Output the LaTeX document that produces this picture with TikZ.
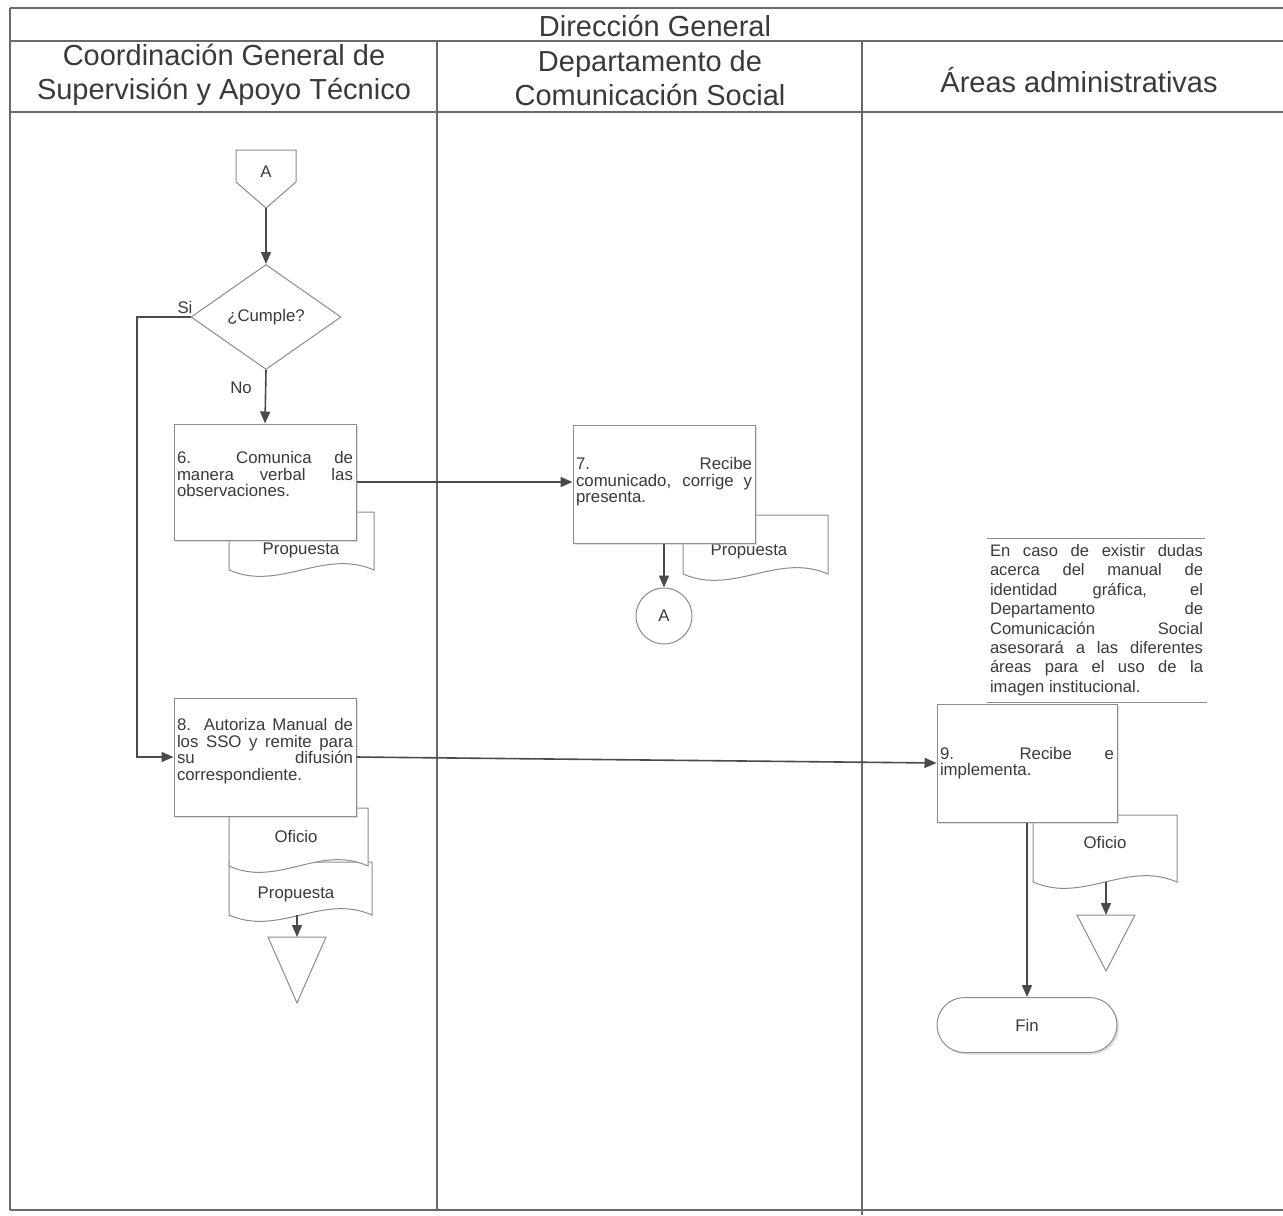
\documentclass[tikz,border=0pt]{standalone}
\usepackage{fontspec}
\setmainfont{Liberation Sans}
\usetikzlibrary{arrows.meta,shapes.geometric,shadows}
\definecolor{lnc}{HTML}{6A6A6A}
\definecolor{bxc}{HTML}{8C8C8C}
\definecolor{arc}{HTML}{4A4A4A}
\definecolor{txc}{HTML}{3A3A3A}
\newcommand{\hfont}{\fontsize{14.5pt}{17pt}\selectfont}
\newcommand{\sm}{\fontsize{8.4pt}{8.3pt}\selectfont}
\newcommand{\notefont}{\fontsize{8.3pt}{9.7pt}\selectfont}
\newcommand{\jl}[2]{\makebox[#1][s]{#2}}
\newcommand{\docshp}[4]{\draw[shp] (#1,#2) -- (#3,#2) -- (#3,#4) .. controls ({#1+0.65*(#3-#1)},{#4-22}) and ({#1+0.35*(#3-#1)},{#4+22}) .. (#1,#4) -- cycle;}
\tikzset{
  lane/.style={draw=lnc, line width=0.6pt},
  hdr/.style={font=\hfont, text=txc, align=center, inner sep=0pt},
  shp/.style={draw=bxc, fill=white, line width=0.5pt},
  proc/.style={shp, minimum width=91pt, minimum height=59pt, inner sep=1.5pt, font=\sm, text=txc,
    drop shadow={shadow xshift=1pt, shadow yshift=-1pt, fill=black!25}},
  intxt/.style={inner sep=0pt, font=\sm, text=txc},
  conn/.style={draw=arc, line width=0.8pt, -{Triangle[length=6pt,width=5pt]}},
  lbl/.style={font=\sm, text=txc, inner sep=0pt},
}
\begin{document}
\begin{tikzpicture}[x=0.5pt,y=-0.5pt]
\useasboundingbox (0,0) rectangle (1283,1215);
\fill[white] (0,0) rectangle (1283,1215);
% lanes
\draw[lane] (10,8) -- (1283,8);
\draw[lane] (10,41) -- (1283,41);
\draw[lane] (10,112) -- (1283,112);
\draw[lane] (10,8) -- (10,1210);
\draw[lane] (437,41) -- (437,1210);
\draw[lane] (862,41) -- (862,1215);
\draw[lane] (10,1210) -- (1283,1210);
\node[hdr] (dg) at (655,26) {Dirección General};
\node[hdr] (h1) at (224,75) {Coordinación General de\\Supervisión y Apoyo Técnico};
\node[hdr] (h2) at (650,78) {Departamento de\\Comunicación Social};
\node[hdr] (h3) at (1079,80) {Áreas administrativas};
% off-page connector
\draw[shp] (236,150) -- (296,150) -- (296,182) -- (266,208) -- (236,182) -- cycle;
\node[lbl] (opA) at (266,172) {A};
\coordinate (opAtip) at (266,208);
% decision
\node[shp, diamond, minimum width=75pt, minimum height=52.5pt, inner sep=0pt, font=\sm, text=txc] (dec) at (266,317) {¿Cumple?};
% documents
\docshp{229}{512}{374}{570}
\node[lbl] (d1) at (301,550) {Propuesta};
\docshp{683}{515}{828}{574}
\node[lbl] (d2) at (749,551) {Propuesta};
\docshp{229}{862}{372}{915}
\node[lbl] (d4) at (296,894) {Propuesta};
\coordinate (d4b) at (297,915);
\docshp{229}{808}{368}{866}
\node[lbl] (d3) at (296,836) {Oficio};
\docshp{1033}{815}{1177}{882}
\node[lbl] (d5) at (1105,842) {Oficio};
\coordinate (d5b) at (1106,882);
% archive triangles
\draw[shp] (268,937) -- (326,937) -- (297,1003) -- cycle;
\coordinate (tri1) at (297,937);
\draw[shp] (1077,915) -- (1135,915) -- (1106,971) -- cycle;
\coordinate (tri2) at (1106,915);
% process boxes
\node[proc, minimum height=58pt] (b6) at (265,482) {};
\node[intxt] (b6t) at ([yshift=4pt]b6.center) {\parbox{88pt}{\jl{88pt}{6.\ \ Comunica de}\\\jl{88pt}{manera verbal las}\\observaciones.}};
\node[proc] (b7) at (664,484) {};
\node[intxt] (b7t) at ([yshift=1pt]b7.center) {\parbox{88pt}{\jl{88pt}{7. Recibe}\\\jl{88pt}{comunicado, corrige y}\\presenta.}};
\node[proc] (b8) at (265,757) {};
\node[intxt] (b8t) at ([yshift=3pt]b8.center) {\parbox{88pt}{\jl{88pt}{8. Autoriza Manual de}\\\jl{88pt}{los SSO y remite\ para}\\\jl{88pt}{su difusión}\\correspondiente.}};
\node[proc, minimum width=90pt] (b9) at (1027,763) {};
\node[intxt] (b9t) at (b9.center) {\parbox{87pt}{\jl{87pt}{9.\ \ Recibe e}\\implementa.}};
\node[circle, shp, minimum size=28pt, inner sep=0pt, font=\sm, text=txc] (cA) at (664,616) {A};
\node[proc, rounded corners=13.75pt, minimum width=90pt, minimum height=27.5pt] (fin) at (1027,1025) {Fin};
% note
\node[inner sep=0pt, font=\notefont, text=txc] (note) at (1096.5,620) {\parbox{106.5pt}{\jl{106.5pt}{En caso de existir dudas}\\\jl{106.5pt}{acerca del manual de}\\\jl{106.5pt}{identidad gráfica, el}\\\jl{106.5pt}{Departamento de}\\\jl{106.5pt}{Comunicación Social}\\\jl{106.5pt}{asesorará a las diferentes}\\\jl{106.5pt}{áreas para el uso de la}\\imagen institucional.}};
\draw[draw=bxc, line width=0.5pt] (987,538) -- (1205,538);
\draw[draw=bxc, line width=0.5pt] (987,702) -- (1207,702);
% connectors
\draw[conn] (opAtip) -- (dec.north);
\draw[conn] (dec.south) -- (b6.north);
\node[lbl] (no) at (241,388) {No};
\draw[conn] (dec.west) -- (137,317) -- (137,757) -- (b8.west);
\node[lbl] (si) at (185,307) {Si};
\draw[conn] (b6.east) -- (b6.east -| b7.west);
\draw[conn] (b7.south) -- (cA.north);
\draw[conn] (b8.east) -- (b9.west);
\draw[conn] (b9.south) -- (fin.north);
\draw[conn] (d4b) -- (tri1);
\draw[conn] (d5b) -- (tri2);
\end{tikzpicture}
\end{document}
